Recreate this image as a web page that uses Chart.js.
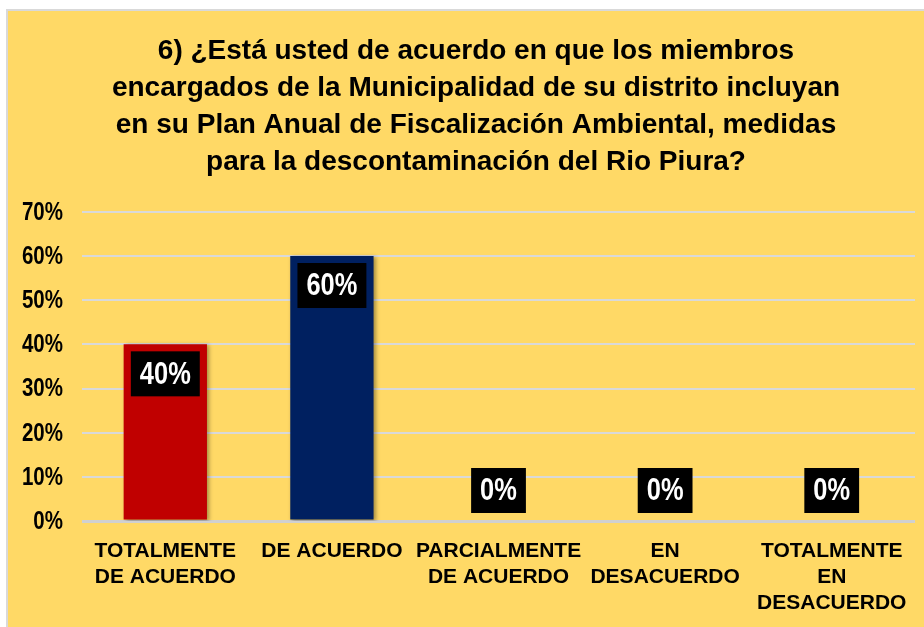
<!DOCTYPE html>
<html>
<head>
<meta charset="utf-8">
<script src="https://cdn.jsdelivr.net/npm/chart.js@4.4.1/dist/chart.umd.min.js"></script>
<style>
html,body{margin:0;padding:0;background:#fff;}
#wrap{position:absolute;left:0;top:0;width:924px;height:627px;}
</style>
</head>
<body>
<div id="wrap"><canvas id="c" width="924" height="627"></canvas></div>
<script>
const categories = [
  ["TOTALMENTE", "DE ACUERDO"],
  ["DE ACUERDO"],
  ["PARCIALMENTE", "DE ACUERDO"],
  ["EN", "DESACUERDO"],
  ["TOTALMENTE", "EN", "DESACUERDO"]
];
const values = [0.40, 0.60, 0, 0, 0];
const barColors = ["#C00000", "#002060", "#7F7F7F", "#7F7F7F", "#7F7F7F"];
const yTicks = [0, 0.1, 0.2, 0.3, 0.4, 0.5, 0.6, 0.7];
const titleLines = [
  "6) ¿Está usted de acuerdo en que los miembros",
  "encargados de la Municipalidad de su distrito incluyan",
  "en su Plan Anual de Fiscalización Ambiental, medidas",
  "para la descontaminación del Rio Piura?"
];

const SANS = "'Liberation Sans', Arial, sans-serif";
const NARROW_X = 0.82;

function pct(v) { return Math.round(v * 100) + '%'; }

const bgPlugin = {
  id: 'bg',
  beforeDraw(chart) {
    const ctx = chart.ctx;
    ctx.save();
    ctx.fillStyle = '#ffffff';
    ctx.fillRect(0, 0, chart.width, chart.height);
    ctx.fillStyle = '#D9D9D9';
    ctx.fillRect(6, 9, chart.width - 6, chart.height - 9);
    ctx.fillStyle = '#FFD966';
    ctx.fillRect(8, 11, chart.width - 8, chart.height - 11);
    ctx.restore();
  }
};

const shadowPlugin = {
  id: 'barShadow',
  beforeDatasetDraw(chart) {
    const ctx = chart.ctx;
    ctx.save();
    ctx.shadowColor = 'rgba(0,0,0,0.35)';
    ctx.shadowBlur = 4;
    ctx.shadowOffsetX = 2;
    ctx.shadowOffsetY = 1;
  },
  afterDatasetDraw(chart) {
    chart.ctx.restore();
  }
};

// Narrow (condensed) y tick labels, positioned from the library's y scale
const yLabelPlugin = {
  id: 'yNarrowLabels',
  afterDraw(chart) {
    const ctx = chart.ctx;
    const ys = chart.scales.y;
    ctx.save();
    ctx.font = "bold 25px " + SANS;
    ctx.fillStyle = '#000000';
    ctx.textAlign = 'right';
    ctx.textBaseline = 'middle';
    const right = ys.right - 19;
    ys.ticks.forEach(t => {
      const y = ys.getPixelForValue(t.value);
      ctx.save();
      ctx.translate(right, y);
      ctx.scale(NARROW_X, 1);
      ctx.fillText(pct(t.value), 0, 1);
      ctx.restore();
    });
    ctx.restore();
  }
};

const labelPlugin = {
  id: 'boxLabels',
  afterDatasetsDraw(chart) {
    const ctx = chart.ctx;
    const meta = chart.getDatasetMeta(0);
    ctx.save();
    ctx.font = "bold 32px " + SANS;
    ctx.textAlign = 'center';
    ctx.textBaseline = 'middle';
    meta.data.forEach((bar, i) => {
      const v = values[i];
      const txt = pct(v);
      const sx = NARROW_X * 0.97;
      const tw = ctx.measureText(txt).width * sx;
      const w = tw + 18;
      const h = 45;
      const top = v > 0 ? bar.y + 7 : bar.y - 8 - h;
      ctx.fillStyle = '#000000';
      ctx.fillRect(bar.x - w / 2, top, w, h);
      ctx.save();
      ctx.translate(bar.x, top + h / 2 + 1);
      ctx.scale(sx, 1);
      ctx.fillStyle = '#ffffff';
      ctx.fillText(txt, 0, 0);
      ctx.restore();
    });
    ctx.restore();
  }
};

new Chart(document.getElementById('c'), {
  type: 'bar',
  data: {
    labels: categories,
    datasets: [{
      data: values,
      backgroundColor: barColors,
      borderWidth: 0,
      categoryPercentage: 1.0,
      barPercentage: 0.5
    }]
  },
  options: {
    responsive: false,
    animation: false,
    devicePixelRatio: 1,
    layout: { padding: { left: 34, right: 6, top: 0, bottom: 0 } },
    plugins: {
      legend: { display: false },
      tooltip: { enabled: false },
      title: {
        display: true,
        text: titleLines,
        color: '#000000',
        font: { family: SANS, size: 28, weight: 'bold', lineHeight: 1.32 },
        padding: { top: 33, bottom: 31 }
      }
    },
    scales: {
      x: {
        afterFit(scale) { scale.height = 106; },
        grid: { display: false, drawTicks: false },
        border: { display: false },
        ticks: {
          color: '#000000',
          font: { family: SANS, size: 21, weight: 'bold', lineHeight: 1.24 },
          padding: 17,
          maxRotation: 0,
          autoSkip: false
        }
      },
      y: {
        min: 0,
        max: 0.7,
        afterFit(scale) { scale.width = 48; },
        afterBuildTicks(scale) { scale.ticks = yTicks.map(v => ({ value: v })); },
        grid: {
          drawTicks: false,
          color: (c) => c.tick && c.tick.value === 0 ? '#D0D0D0' : '#D9D9D9',
          lineWidth: (c) => c.tick && c.tick.value === 0 ? 3 : 2
        },
        border: { display: false },
        ticks: {
          color: 'rgba(0,0,0,0)',
          font: { family: SANS, size: 25, weight: 'bold' },
          padding: 19,
          callback: (v) => pct(v)
        }
      }
    }
  },
  plugins: [bgPlugin, shadowPlugin, yLabelPlugin, labelPlugin]
});
</script>
</body>
</html>
